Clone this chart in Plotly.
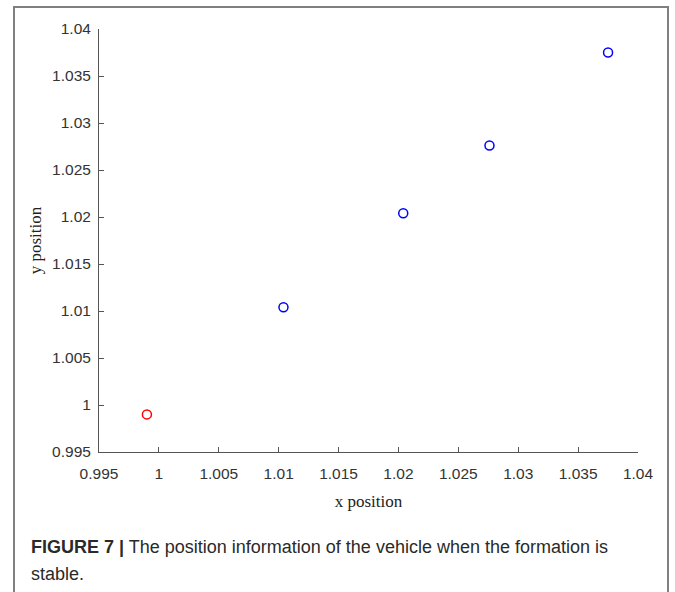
import plotly.graph_objects as go

# Data
red_x = [0.999]
red_y = [0.999]
blue_x = [1.0104, 1.0204, 1.0276, 1.0375]
blue_y = [1.0104, 1.0204, 1.0276, 1.0375]

tick_vals = [0.995, 1.0, 1.005, 1.01, 1.015, 1.02, 1.025, 1.03, 1.035, 1.04]
tick_text = ["0.995", "1", "1.005", "1.01", "1.015", "1.02", "1.025", "1.03", "1.035", "1.04"]

W, H = 675, 592
L, R, T, B = 99, 37, 29, 140
pw = W - L - R
ph = H - T - B

def px(x):
    return (x - L) / pw

def py(y):
    return (H - B - y) / ph

fig = go.Figure()
fig.add_trace(go.Scatter(x=red_x, y=red_y, mode="markers",
                         marker=dict(symbol="circle-open", size=9, color="#FF0000",
                                     line=dict(width=1.5, color="#FF0000")),
                         showlegend=False))
fig.add_trace(go.Scatter(x=blue_x, y=blue_y, mode="markers",
                         marker=dict(symbol="circle-open", size=9, color="#0000FF",
                                     line=dict(width=1.5, color="#0000FF")),
                         showlegend=False))

axis_common = dict(
    showline=True, linecolor="#555555", linewidth=1,
    ticks="inside", ticklen=5, tickcolor="#555555", tickwidth=1,
    showgrid=False, zeroline=False, mirror=False,
    tickvals=tick_vals, ticktext=tick_text,
    range=[0.995, 1.04],
    tickfont=dict(family="Liberation Sans, Arial, sans-serif", size=15.5, color="#333333"),
)

fig.update_layout(
    width=W, height=H,
    margin=dict(l=L, r=R, t=T, b=B),
    paper_bgcolor="white", plot_bgcolor="white",
    xaxis=dict(axis_common, ticklabelstandoff=7,
               title=dict(text="x position", standoff=14,
                          font=dict(family="Liberation Serif, Times New Roman, serif", size=17, color="#222222"))),
    yaxis=dict(axis_common, ticklabelstandoff=4,
               title=dict(text="y position", standoff=6,
                          font=dict(family="Liberation Serif, Times New Roman, serif", size=17, color="#222222"))),
    shapes=[dict(type="rect", xref="paper", yref="paper",
                 x0=px(14), x1=px(668), y0=py(640), y1=py(7),
                 line=dict(color="#808080", width=2), fillcolor="rgba(0,0,0,0)", layer="above")],
    annotations=[
        dict(xref="paper", yref="paper", x=px(29), y=py(547), xanchor="left", yanchor="middle",
             showarrow=False, align="left",
             text="<b>FIGURE 7 |</b> The position information of the vehicle when the formation is",
             font=dict(family="Liberation Sans, Arial, sans-serif", size=18, color="#2a2a2a")),
        dict(xref="paper", yref="paper", x=px(29), y=py(574), xanchor="left", yanchor="middle",
             showarrow=False, align="left",
             text="stable.",
             font=dict(family="Liberation Sans, Arial, sans-serif", size=18, color="#2a2a2a")),
    ],
)

fig.write_html("out.html")
